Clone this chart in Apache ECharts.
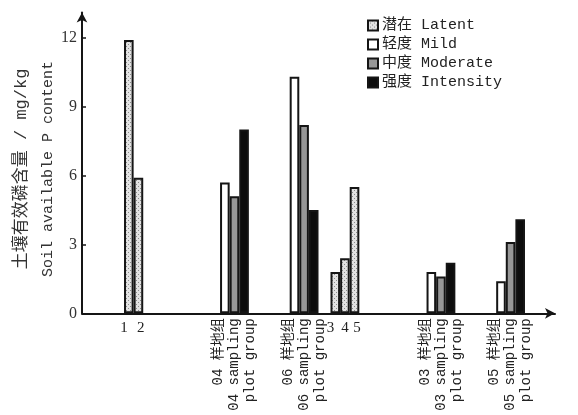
<!DOCTYPE html>
<html>
<head>
<meta charset="utf-8">
<script src="https://cdn.jsdelivr.net/npm/echarts@6/dist/echarts.min.js"></script>
<style>
  html, body { margin: 0; padding: 0; background: #fff; }
  #chart { width: 578px; height: 415px; }
</style>
</head>
<body>
<div id="chart"></div>
<script>
// Soil available P content by degradation degree
const seriesNames = ['潜在 Latent', '轻度 Mild', '中度 Moderate', '强度 Intensity'];

// single plots (latent only)
const plotLabels = ['1', '2', '3', '4', '5'];
const latentValues = [11.9, 5.9, 1.8, 2.4, 5.5];

// sampling plot groups: mild / moderate / intensity
const groupLabels = [
  '04 样地组\n04 sampling\nplot group',
  '06 样地组\n06 sampling\nplot group',
  '03 样地组\n03 sampling\nplot group',
  '05 样地组\n05 sampling\nplot group'
];
const mildValues = [5.7, 10.3, 1.8, 1.4];
const moderateValues = [5.1, 8.2, 1.6, 3.1];
const intensityValues = [8.0, 4.5, 2.2, 4.1];

const yTicks = [0, 3, 6, 9, 12];

// x axis layout: narrow slots, a quarter of a bar wide each
const SLOT_COUNT = 197;
const BAR_SLOTS = 4;
const plotSlots = [19, 23, 105, 109, 113];
const plotLabelSlots = [17, 24, 103, 109, 114];
const groupSlots = [63, 92, 149, 178];

const empty = () => new Array(SLOT_COUNT).fill(null);
const groupAxis = new Array(SLOT_COUNT).fill('');
const plotAxis = new Array(SLOT_COUNT).fill('');
const latentData = empty(), mildData = empty(), moderateData = empty(), intensityData = empty();

plotSlots.forEach((s, i) => { latentData[s] = latentValues[i]; });
plotLabelSlots.forEach((s, i) => { plotAxis[s] = plotLabels[i]; });
groupSlots.forEach((s, i) => {
  groupAxis[s] = groupLabels[i];
  mildData[s - BAR_SLOTS] = mildValues[i];
  moderateData[s] = moderateValues[i];
  intensityData[s + BAR_SLOTS] = intensityValues[i];
});

// dotted fill for the latent bars
function dotPattern() {
  const c = document.createElement('canvas');
  c.width = 4; c.height = 4;
  const g = c.getContext('2d');
  g.fillStyle = '#e2e2e2';
  g.fillRect(0, 0, 4, 4);
  g.fillStyle = '#8c8c8c';
  g.fillRect(0, 0, 1, 1);
  g.fillRect(2, 2, 1, 1);
  return c;
}

const INK = '#151515';
const MONO = "'Liberation Mono', 'Noto Sans CJK SC', monospace";
const SERIF = "'Liberation Serif', 'DejaVu Serif', serif";

const fills = [
  { image: dotPattern(), repeat: 'repeat' },
  '#ffffff',
  '#979797',
  '#0d0d0d'
];
const seriesData = [latentData, mildData, moderateData, intensityData];

const chart = echarts.init(document.getElementById('chart'), null, { renderer: 'canvas' });
chart.setOption({
  animation: false,
  backgroundColor: '#ffffff',
  grid: { left: 82, right: 23, top: 12.5, bottom: 101.7, containLabel: false },
  legend: {
    orient: 'vertical',
    left: 362,
    top: 13,
    itemWidth: 10,
    itemHeight: 10,
    itemGap: 4,
    icon: 'rect',
    textStyle: { fontFamily: MONO, fontSize: 15, color: '#222', padding: [0, 0, 0, -1] },
    data: seriesNames
  },
  xAxis: [
    {
      type: 'category',
      data: groupAxis,
      position: 'bottom',
      axisLine: { show: true, symbol: ['none', 'arrow'], symbolSize: [8, 10], lineStyle: { color: INK, width: 2 } },
      axisTick: { show: false },
      axisLabel: { interval: 0, rotate: 90, margin: 5, fontFamily: MONO, fontSize: 14, lineHeight: 16, color: '#222' },
      splitLine: { show: false }
    },
    {
      type: 'category',
      data: plotAxis,
      position: 'bottom',
      axisLine: { show: false },
      axisTick: { show: false },
      axisLabel: { interval: 0, rotate: 0, margin: 7, fontFamily: SERIF, fontSize: 15, color: '#222' },
      splitLine: { show: false }
    }
  ],
  yAxis: {
    type: 'value',
    min: yTicks[0],
    max: 13.1,
    interval: yTicks[1] - yTicks[0],
    axisLine: { show: true, symbol: ['none', 'arrow'], symbolSize: [8, 10], lineStyle: { color: INK, width: 2 } },
    axisTick: { show: true, inside: true, length: 4, lineStyle: { color: INK, width: 1.5 } },
    axisLabel: { showMaxLabel: false, margin: 5, fontFamily: SERIF, fontSize: 16, color: '#333' },
    splitLine: { show: false },
    name: '{a|土壤有效磷含量 / mg/kg}\n{b|Soil available P content}',
    nameLocation: 'middle',
    nameRotate: 90,
    nameGap: 20,
    nameMoveOverlap: false,
    nameTextStyle: {
      padding: [0, 12, 0, 0],
      rich: {
        a: { fontFamily: MONO, fontSize: 17, lineHeight: 27, color: '#333' },
        b: { fontFamily: MONO, fontSize: 15, lineHeight: 27, color: '#333' }
      }
    }
  },
  series: seriesNames.map((name, k) => ({
    name,
    type: 'bar',
    xAxisIndex: 0,
    data: seriesData[k],
    barWidth: (BAR_SLOTS * 100) + '%',
    barGap: '-100%',
    itemStyle: { color: fills[k], borderColor: INK, borderWidth: 2 }
  }))
});
</script>
</body>
</html>
